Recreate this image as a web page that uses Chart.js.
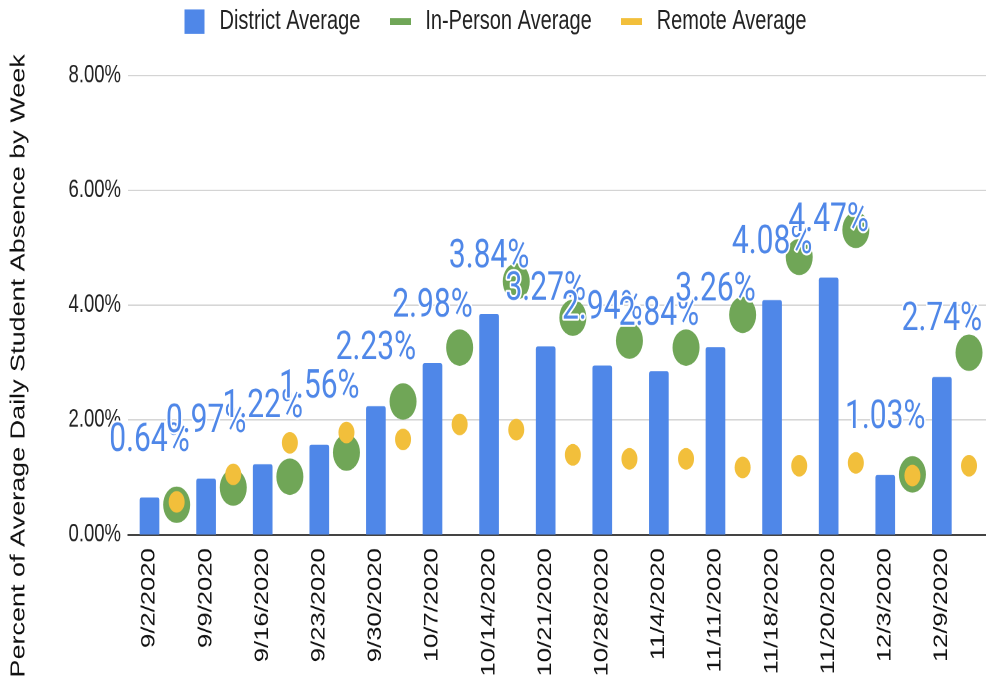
<!DOCTYPE html>
<html>
<head>
<meta charset="utf-8">
<script src="https://cdn.jsdelivr.net/npm/chart.js@4.4.0/dist/chart.umd.min.js"></script>
<style>
  html, body { margin: 0; padding: 0; background: #fff; }
  body { width: 986px; height: 683px; overflow: hidden; }
  /* the original picture is a screenshot stretched vertically, so draw 506px high and stretch it */
  #wrap { width: 986px; height: 506px; transform: scaleY(1.35); transform-origin: 0 0; }
</style>
</head>
<body>
<div id="wrap"><canvas id="myChart"></canvas></div>
<script>
// weeks along the x-axis
var weeks = ['9/2/2020','9/9/2020','9/16/2020','9/23/2020','9/30/2020','10/7/2020','10/14/2020','10/21/2020',
             '10/28/2020','11/4/2020','11/11/2020','11/18/2020','11/20/2020','12/3/2020','12/9/2020'];
// percent absent
var district = [0.64, 0.97, 1.22, 1.56, 2.23, 2.98, 3.84, 3.27, 2.94, 2.84, 3.26, 4.08, 4.47, 1.03, 2.74];
var inPerson = [0.52, 0.82, 1.01, 1.43, 2.32, 3.26, 4.41, 3.78, 3.38, 3.26, 3.83, 4.84, 5.31, 1.05, 3.17];
var remote   = [0.57, 1.05, 1.60, 1.78, 1.66, 1.92, 1.83, 1.39, 1.32, 1.32, 1.17, 1.20, 1.25, 1.03, 1.20];
var yTicks = [0, 2, 4, 6, 8];
var yTitle = 'Percent of Average Daily Student Absence by Week';

var blue = '#4f87e8', green = '#70a657', yellow = '#f2bf3b';
var font = '"Liberation Sans", Arial, sans-serif';

Chart.defaults.font.family = font;

// legend icons: tall box for the bars, flat ones for the dots
function icon(w, h, color) {
  var c = document.createElement('canvas');
  c.width = w; c.height = h;
  var g = c.getContext('2d');
  g.fillStyle = color;
  g.fillRect(0, 0, w, h);
  return c;
}
var icons = [icon(20, 18, blue), icon(21, 5, green), icon(21, 5, yellow)];

// blue value labels above the bars
var valueLabels = {
  id: 'valueLabels',
  afterDatasetsDraw: function(chart) {
    var ctx = chart.ctx;
    var meta = chart.getDatasetMeta(0);
    ctx.save();
    ctx.font = '30px Roboto';
    ctx.textAlign = 'center';
    ctx.textBaseline = 'alphabetic';
    ctx.lineJoin = 'round';
    ctx.lineWidth = 3;
    ctx.strokeStyle = '#fff';
    ctx.fillStyle = blue;
    meta.data.forEach(function(bar, i) {
      var text = district[i].toFixed(2) + '%';
      ctx.strokeText(text, bar.x, bar.y - 35);
      ctx.fillText(text, bar.x, bar.y - 35);
    });
    ctx.restore();
  }
};

// y axis title, centred lower than the plot like in the original
var sideTitle = {
  id: 'sideTitle',
  afterDraw: function(chart) {
    var ctx = chart.ctx;
    ctx.save();
    ctx.translate(19, 271);
    ctx.rotate(-Math.PI / 2);
    ctx.font = '20px ' + font;
    ctx.textAlign = 'center';
    ctx.textBaseline = 'middle';
    ctx.fillStyle = '#111';
    ctx.fillText(yTitle, 0, 0);
    ctx.restore();
  }
};

var ctx = document.getElementById('myChart');
var myChart = new Chart(ctx, {
  type: 'bar',
  data: {
    datasets: [
      {
        type: 'bar',
        label: 'District Average',
        data: district.map(function(v, i) { return {x: i, y: v}; }),
        backgroundColor: blue,
        barThickness: 19,
        borderRadius: {topLeft: 2, topRight: 2},
        borderSkipped: 'bottom',
        order: 2
      },
      {
        type: 'scatter',
        label: 'In-Person Average',
        data: inPerson.map(function(v, i) { return {x: i + 0.48, y: v}; }),
        backgroundColor: green,
        borderWidth: 0,
        pointRadius: 13.5,
        order: 1
      },
      {
        type: 'scatter',
        label: 'Remote Average',
        data: remote.map(function(v, i) { return {x: i + 0.48, y: v}; }),
        backgroundColor: yellow,
        borderWidth: 0,
        pointRadius: 8,
        order: 0
      }
    ]
  },
  options: {
    responsive: true,
    maintainAspectRatio: false,
    devicePixelRatio: 2,
    animation: false,
    layout: { autoPadding: false, padding: {top: -19, left: 0, right: 0, bottom: 0} },
    plugins: {
      tooltip: { enabled: false },
      legend: {
        position: 'top',
        labels: {
          usePointStyle: true,
          pointStyleWidth: 30,
          padding: 25,
          color: '#222',
          font: { size: 20 },
          generateLabels: function(chart) {
            var items = Chart.defaults.plugins.legend.labels.generateLabels(chart);
            // keep the dataset order, not the drawing order
            items.sort(function(a, b) { return a.datasetIndex - b.datasetIndex; });
            items.forEach(function(it) { it.pointStyle = icons[it.datasetIndex]; });
            return items;
          }
        }
      }
    },
    scales: {
      x: {
        type: 'linear',
        offset: false,
        min: -0.38,
        max: 14.78,
        grid: { display: false, drawTicks: false, offset: false },
        border: { color: '#444', width: 1.5 },
        afterBuildTicks: function(axis) {
          axis.ticks = weeks.map(function(w, i) { return {value: i}; });
        },
        afterFit: function(scale) {
          scale.height = 110;
          scale.paddingLeft = 0;
          scale.paddingRight = 0;
        },
        ticks: {
          autoSkip: false,
          minRotation: 90,
          maxRotation: 90,
          padding: 10,
          color: '#111',
          font: { size: 19 },
          callback: function(v) { return weeks[v]; }
        }
      },
      y: {
        min: 0,
        max: 8.47,
        grid: { color: '#d4d4d4', drawTicks: false },
        border: { display: false },
        afterBuildTicks: function(axis) {
          axis.ticks = yTicks.map(function(v) { return {value: v}; });
        },
        afterFit: function(scale) { scale.width = 128; },
        ticks: {
          padding: 7,
          color: '#222',
          font: { size: 18.5 },
          callback: function(v) { return v.toFixed(2) + '%'; }
        }
      }
    }
  },
  plugins: [valueLabels, sideTitle]
});
</script>
</body>
</html>
